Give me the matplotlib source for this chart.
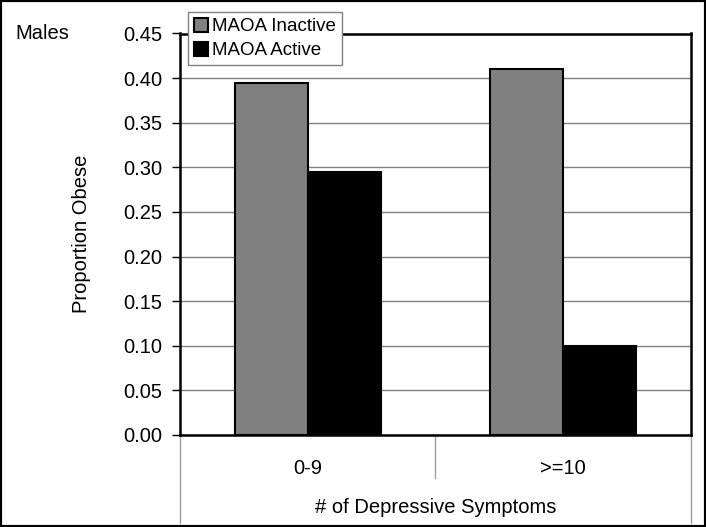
import matplotlib.pyplot as plt
from matplotlib.lines import Line2D
from matplotlib.patches import Rectangle
import numpy as np

plt.rcParams['font.family'] = ['Liberation Sans', 'DejaVu Sans']

categories = ['0-9', '>=10']
inactive = [0.395, 0.41]
active = [0.295, 0.10]
yticks = [0.00, 0.05, 0.10, 0.15, 0.20, 0.25, 0.30, 0.35, 0.40, 0.45]

fs = 14.5

fig = plt.figure(figsize=(7.06, 5.27), dpi=100)
ax = fig.add_axes([180 / 706, 92 / 527, 511 / 706, 401.5 / 527])

x = np.arange(len(categories))
w = 1 / 3.5
ax.bar(x - w / 2, inactive, w, color='#808080', edgecolor='black', linewidth=1.5,
       label='MAOA Inactive', zorder=3)
ax.bar(x + w / 2, active, w, color='black', edgecolor='black', linewidth=1.5,
       label='MAOA Active', zorder=3)

ax.set_xlim(-0.5, 1.5)
ax.set_ylim(0, 0.45)
ax.set_yticks(yticks)
ax.set_yticklabels([f'{v:.2f}' for v in yticks], fontsize=fs)
ax.yaxis.grid(True, color='#808080', linewidth=1, zorder=0)
ax.tick_params(axis='y', length=6, width=1, direction='out', pad=7)
ax.set_xticks(x)
ax.set_xticklabels(categories, fontsize=fs)
ax.tick_params(axis='x', length=0, pad=17)
for s in ax.spines.values():
    s.set_linewidth(1.8)
ax.set_ylabel('Proportion Obese', fontsize=fs, labelpad=23)
ax.set_xlabel('# of Depressive Symptoms', fontsize=fs, labelpad=15)

# category separators below the axis
for xs, depth in [(0, 0.219), (0.5, 0.108), (1, 0.219)]:
    ax.add_line(Line2D([xs, xs], [0, -depth], transform=ax.transAxes, color='#a0a0a0',
                       linewidth=1, clip_on=False))

leg = ax.legend(loc='upper left', bbox_to_anchor=(8 / 511, 1.053), fontsize=13.5,
                frameon=True, fancybox=False, framealpha=1, edgecolor='#808080',
                handlelength=0.75, handleheight=0.75, handletextpad=0.25,
                borderpad=0.3, labelspacing=0.35, borderaxespad=0)
leg.get_frame().set_linewidth(1)
leg.set_zorder(5)

fig.text(15 / 706, 1 - 34 / 527, 'Males', fontsize=fs, va='center', ha='left')

fig.patches.append(Rectangle((0, 0), 1, 1, transform=fig.transFigure, fill=False,
                             edgecolor='black', linewidth=3))

fig.savefig('out.png', dpi=100)
